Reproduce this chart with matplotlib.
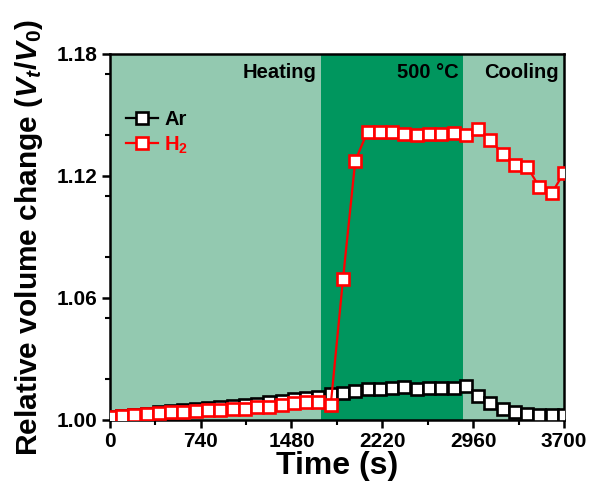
import numpy as np
import matplotlib
matplotlib.use("Agg")
import matplotlib.pyplot as plt
from matplotlib.ticker import MultipleLocator, FormatStrFormatter

# time axis, one sample every 100 s
time_s = np.arange(0, 3800, 100)

ar = [1.0015, 1.0020, 1.0026, 1.0031, 1.0037, 1.0042, 1.0047, 1.0052, 1.0057, 1.0062,
      1.0067, 1.0072, 1.0079, 1.0086, 1.0094, 1.0102, 1.0108, 1.0115, 1.0125, 1.0134,
      1.0143, 1.0152, 1.0152, 1.0156, 1.0161, 1.0152, 1.0156, 1.0159, 1.0156, 1.0167,
      1.0118, 1.0082, 1.0053, 1.0038, 1.0028, 1.0025, 1.0025, 1.0025]

h2 = [1.0016, 1.0020, 1.0025, 1.0028, 1.0033, 1.0038, 1.0041, 1.0044, 1.0047, 1.0049,
      1.0053, 1.0056, 1.0061, 1.0065, 1.0074, 1.0082, 1.0087, 1.0090, 1.0074, 1.0694,
      1.1275, 1.1418, 1.1415, 1.1415, 1.1408, 1.1402, 1.1408, 1.1408, 1.1412, 1.1402,
      1.1428, 1.1377, 1.1307, 1.1254, 1.1246, 1.1143, 1.1115, 1.1216]

# stage boundaries (s)
heat_end = 1720
hold_end = 2880
t_end = 3700

stage_names = ["Heating", "500 °C", "Cooling"]
x_ticks = [0, 740, 1480, 2220, 2960, 3700]
y_ticks = [1.00, 1.06, 1.12, 1.18]

plt.rcParams["font.family"] = ["Liberation Sans", "DejaVu Sans"]
plt.rcParams["font.weight"] = "bold"
plt.rcParams["mathtext.fontset"] = "custom"
plt.rcParams["mathtext.rm"] = "Liberation Sans:bold"
plt.rcParams["mathtext.it"] = "Liberation Sans:italic:bold"
plt.rcParams["mathtext.bf"] = "Liberation Sans:bold"

fig = plt.figure(figsize=(5.9, 4.94), dpi=100)
ax = fig.add_axes([0.186, 0.150, 0.770, 0.741])

light = "#93c9b0"
dark = "#00965e"
ax.axvspan(0, heat_end, color=light, lw=0, zorder=0)
ax.axvspan(heat_end, hold_end, color=dark, lw=0, zorder=0)
ax.axvspan(hold_end, t_end, color=light, lw=0, zorder=0)

mk = dict(marker="s", ms=8, mfc="white", mew=1.9, lw=1.6)
ax.plot(time_s, ar, color="black", mec="black", label="Ar", zorder=3, **mk)
ax.plot(time_s, h2, color="#ff0000", mec="#ff0000", label="H$_2$", zorder=4, **mk)

ax.set_xlim(0, 3700)
ax.set_ylim(1.00, 1.18)
ax.set_xticks(x_ticks)
ax.set_yticks(y_ticks)
ax.xaxis.set_minor_locator(MultipleLocator(370))
ax.yaxis.set_minor_locator(MultipleLocator(0.03))
ax.yaxis.set_major_formatter(FormatStrFormatter("%.2f"))
ax.tick_params(which="major", direction="out", length=6, width=1.8, labelsize=15, pad=3)
ax.tick_params(which="minor", direction="out", length=3.5, width=1.5)
for s in ax.spines.values():
    s.set_linewidth(1.8)
for lab in ax.get_xticklabels() + ax.get_yticklabels():
    lab.set_fontweight("bold")

ax.set_xlabel("Time (s)", fontsize=23, fontweight="bold", labelpad=0)
ax.set_ylabel("Relative volume change ($V_t$/$V_0$)", fontsize=21.5, fontweight="bold", labelpad=8)

for x_end, name in zip([heat_end, hold_end, t_end], stage_names):
    ax.text(x_end - 40, 1.171, name, ha="right", va="center", fontsize=14.5, fontweight="bold")

leg = ax.legend(loc="upper left", bbox_to_anchor=(0.0, 0.89), frameon=False, fontsize=14.5,
                handlelength=1.6, handletextpad=0.3, labelspacing=0.25, borderaxespad=0.4)
for txt, col in zip(leg.get_texts(), ["black", "#ff0000"]):
    txt.set_color(col)
    txt.set_fontweight("bold")

fig.savefig("out.png", dpi=100)
